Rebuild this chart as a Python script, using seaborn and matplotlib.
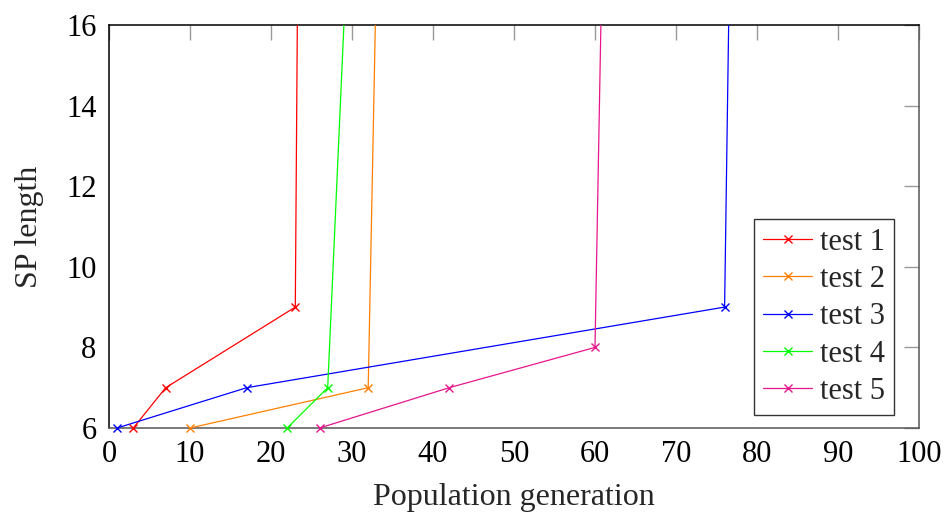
import matplotlib
matplotlib.use("Agg")
import matplotlib.pyplot as plt
from matplotlib.lines import Line2D
from matplotlib.transforms import Bbox, TransformedBbox
import pandas as pd
import seaborn as sns

# Per-run measurements: generation at which each SP length was reached.
# The final point of each run lies above the plotted range.
labels = ["test 1", "test 2", "test 3", "test 4", "test 5"]
test1_gen = [3, 7, 23, 23.75]
test1_len = [6, 7, 9, 30]
test2_gen = [10, 32, 34.25]
test2_len = [6, 7, 30]
test3_gen = [1, 17, 76, 77.5]
test3_len = [6, 7, 9, 30]
test4_gen = [22, 27, 31]
test4_len = [6, 7, 25]
test5_gen = [26, 42, 60, 62]
test5_len = [6, 7, 8, 30]

colors = ["#ff0000", "#ff8000", "#0000ff", "#00ff00", "#e6168c"]
x_ticks = [0, 10, 20, 30, 40, 50, 60, 70, 80, 90, 100]
y_ticks = [6, 8, 10, 12, 14, 16]

gens = [test1_gen, test2_gen, test3_gen, test4_gen, test5_gen]
lens = [test1_len, test2_len, test3_len, test4_len, test5_len]
frames = []
for lab, g, l in zip(labels, gens, lens):
    frames.append(pd.DataFrame({"gen": g, "len": l, "run": lab}))
df = pd.concat(frames, ignore_index=True)

sns.set_theme(style="white")
plt.rcParams["font.family"] = ["Liberation Serif", "DejaVu Serif"]

FS = 22
MS = 5.5

fig = plt.figure(figsize=(9.47, 5.13), dpi=100)
ax = fig.add_axes([109 / 947, 1 - 428 / 513, 810 / 947, 403 / 513])

sns.lineplot(
    data=df, x="gen", y="len", hue="run", style="run",
    palette=colors, markers=["x"] * 5, dashes=False,
    sort=False, estimator=None, units="run",
    linewidth=0.9, markersize=MS, markeredgewidth=1.0,
    legend=False, ax=ax, zorder=3,
)

ax.set_xlim(0, 100)
ax.set_ylim(6, 16)
ax.set_xticks(x_ticks)
ax.set_yticks(y_ticks)

# clip at the top of the axes but leave room for markers sitting on the bottom edge
clip = TransformedBbox(Bbox([[-0.05, -0.06], [1.0, 1.0]]), ax.transAxes)
for line in ax.get_lines():
    line.set_clip_box(clip)
    line.set_markeredgecolor(line.get_color())

ax.tick_params(axis="both", which="both", direction="in", length=11, width=1.0,
               color="#999999", labelsize=FS, top=True, right=True,
               labelcolor="black")
ax.tick_params(axis="x", pad=9)
ax.tick_params(axis="y", pad=9)
for side in ["left", "top"]:
    ax.spines[side].set_color("black")
for side in ["bottom", "right"]:
    ax.spines[side].set_color("#555555")
for s in ax.spines.values():
    s.set_linewidth(1.1)
    s.set_visible(True)

ax.set_xlabel("Population generation", fontsize=23, labelpad=10)
ax.set_ylabel("SP length", fontsize=23, labelpad=16)

handles = [
    Line2D([], [], color=c, marker="x", markersize=MS, markeredgewidth=1.0,
           markeredgecolor=c, linewidth=0.9)
    for c in colors
]
leg = ax.legend(
    handles, labels,
    loc="lower right", bbox_to_anchor=(0.969, 0.032), borderaxespad=0,
    fontsize=FS, frameon=True, fancybox=False, edgecolor="#333333",
    handlelength=1.6, labelspacing=0.27, borderpad=0.3, handletextpad=0.25,
)
leg.get_frame().set_linewidth(1.0)
leg.get_frame().set_alpha(1)

fig.savefig("out.png", dpi=100)
